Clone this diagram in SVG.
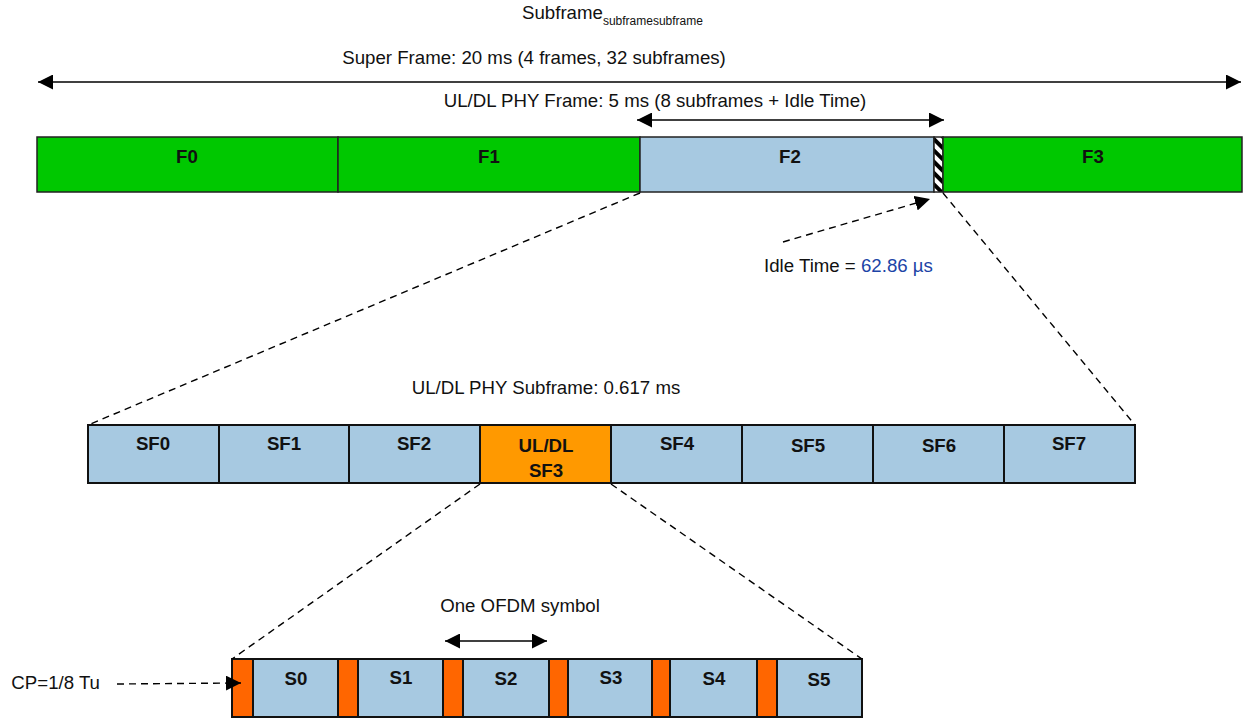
<svg xmlns="http://www.w3.org/2000/svg" width="1245" height="719" viewBox="0 0 1245 719">
<style>
text{font-family:"Liberation Sans",Arial,sans-serif;fill:#111}
.t{font-size:18.67px}
.b{font-size:18.67px;font-weight:bold;text-anchor:middle}
.fr{stroke:#222;stroke-width:1.5}
.sf{fill:#a7c9e1;stroke:#111;stroke-width:2}
.cp{fill:#ff6600;stroke:#111;stroke-width:2}
.ln{stroke:#000;stroke-width:1.6;fill:none}
.ds{stroke:#000;stroke-width:1.4;fill:none;stroke-dasharray:7 5}
</style>
<defs>
<marker id="ahL" viewBox="0 0 10 10" refX="10" refY="5" markerWidth="15" markerHeight="15" markerUnits="userSpaceOnUse" orient="auto-start-reverse">
<path d="M0,0 L10,5 L0,10 z" fill="#000"/>
</marker>
<pattern id="hatch" patternUnits="userSpaceOnUse" width="8" height="8" patternTransform="rotate(-45)">
<rect width="8" height="8" fill="#fff"/>
<rect width="4" height="8" fill="#000"/>
</pattern>
</defs>

<text class="t" x="522" y="19">Subframe<tspan font-size="12" dy="6">subframesubframe</tspan></text>
<text class="t" x="534" y="64" text-anchor="middle">Super Frame: 20 ms (4 frames, 32 subframes)</text>
<text class="t" x="655" y="107" text-anchor="middle">UL/DL PHY Frame: 5 ms (8 subframes + Idle Time)</text>
<text class="t" x="546" y="394" text-anchor="middle">UL/DL PHY Subframe: 0.617 ms</text>
<text class="t" x="520" y="612" text-anchor="middle">One OFDM symbol</text>
<text class="t" x="100" y="689" text-anchor="end">CP=1/8 Tu</text>
<text class="t" x="764" y="272">Idle Time = <tspan fill="#1c44a6">62.86 µs</tspan></text>

<g id="F0"><rect class="fr" x="37" y="137" width="301" height="55" fill="#00c800"/><text class="b" x="187" y="163">F0</text></g>
<g id="F1"><rect class="fr" x="338" y="137" width="302" height="55" fill="#00c800"/><text class="b" x="489" y="163">F1</text></g>
<g id="F2"><rect class="fr" x="640" y="137" width="294" height="55" fill="#a7c9e1"/><text class="b" x="790" y="163">F2</text></g>
<g id="idle"><rect class="fr" x="934" y="137" width="9" height="55" fill="url(#hatch)"/></g>
<g id="F3"><rect class="fr" x="943" y="137" width="299" height="55" fill="#00c800"/><text class="b" x="1093" y="163">F3</text></g>

<g id="SF0"><rect class="sf" x="88" y="425" width="131" height="58"/><text class="b" x="153" y="450">SF0</text></g>
<g id="SF1"><rect class="sf" x="219" y="425" width="130" height="58"/><text class="b" x="284" y="450">SF1</text></g>
<g id="SF2"><rect class="sf" x="349" y="425" width="131" height="58"/><text class="b" x="414" y="450">SF2</text></g>
<g id="SF3"><rect class="sf" x="480" y="425" width="131" height="58" style="fill:#ff9900"/><text class="b" x="546" y="452">UL/DL</text><text class="b" x="546" y="477">SF3</text></g>
<g id="SF4"><rect class="sf" x="611" y="425" width="131" height="58"/><text class="b" x="677" y="450">SF4</text></g>
<g id="SF5"><rect class="sf" x="742" y="425" width="131" height="58"/><text class="b" x="808" y="452">SF5</text></g>
<g id="SF6"><rect class="sf" x="873" y="425" width="131" height="58"/><text class="b" x="939" y="452">SF6</text></g>
<g id="SF7"><rect class="sf" x="1004" y="425" width="131" height="58"/><text class="b" x="1069" y="450">SF7</text></g>

<g id="S0"><rect class="cp" x="232" y="659" width="21" height="58"/><rect class="sf" x="253" y="659" width="85" height="58"/><text class="b" x="296" y="685">S0</text></g>
<g id="S1"><rect class="cp" x="338" y="659" width="20" height="58"/><rect class="sf" x="358" y="659" width="85" height="58"/><text class="b" x="401" y="684">S1</text></g>
<g id="S2"><rect class="cp" x="443" y="659" width="20" height="58"/><rect class="sf" x="463" y="659" width="86" height="58"/><text class="b" x="506" y="685">S2</text></g>
<g id="S3"><rect class="cp" x="549" y="659" width="19" height="58"/><rect class="sf" x="568" y="659" width="84" height="58"/><text class="b" x="611" y="684">S3</text></g>
<g id="S4"><rect class="cp" x="652" y="659" width="18" height="58"/><rect class="sf" x="670" y="659" width="87" height="58"/><text class="b" x="714" y="685">S4</text></g>
<g id="S5"><rect class="cp" x="757" y="659" width="20" height="58"/><rect class="sf" x="777" y="659" width="85" height="58"/><text class="b" x="819" y="686">S5</text></g>

<g id="connectors">
<line class="ln" x1="38" y1="82" x2="1241" y2="82" marker-start="url(#ahL)" marker-end="url(#ahL)"/>
<line class="ln" x1="637" y1="120" x2="944" y2="120" marker-start="url(#ahL)" marker-end="url(#ahL)"/>
<line class="ln" x1="445" y1="641" x2="547" y2="641" marker-start="url(#ahL)" marker-end="url(#ahL)"/>
<line class="ds" x1="640" y1="193" x2="88" y2="425"/>
<line class="ds" x1="943" y1="193" x2="1135" y2="425"/>
<line class="ds" x1="480" y1="484" x2="232" y2="659"/>
<line class="ds" x1="611" y1="484" x2="862" y2="659"/>
<line class="ds" x1="783" y1="242" x2="930" y2="199" marker-end="url(#ahL)"/>
<line class="ds" x1="117" y1="684" x2="241" y2="683" marker-end="url(#ahL)"/>
</g>
</svg>
